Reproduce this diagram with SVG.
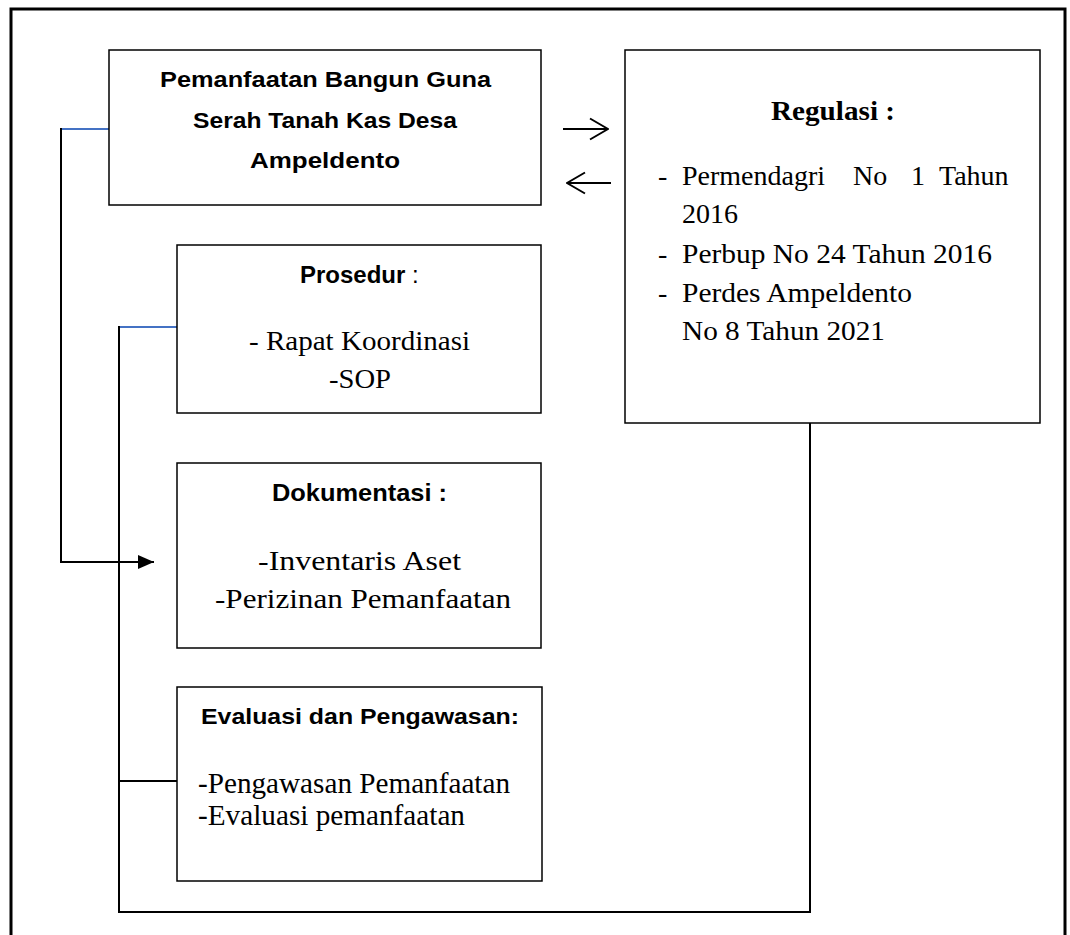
<svg xmlns="http://www.w3.org/2000/svg" width="1070" height="935" viewBox="0 0 1070 935">
<style>
.box{fill:#fff;stroke:#000;stroke-width:1.5}
.ln{fill:none;stroke:#000;stroke-width:2}
.blue{fill:none;stroke:#4472C4;stroke-width:2}
.sb{font-family:"Liberation Sans",Arial,sans-serif;font-weight:bold;fill:#000}
.sn{font-family:"Liberation Sans",Arial,sans-serif;fill:#000}
.sr{font-family:"Liberation Serif","Times New Roman",serif;fill:#000}
</style>
<defs>
<marker id="fill" viewBox="0 0 16 14" refX="16" refY="7" markerWidth="16" markerHeight="14" markerUnits="userSpaceOnUse" orient="auto"><path d="M0,0 L16,7 L0,14 Z" fill="#000"/></marker>
<marker id="open" viewBox="0 0 20 24" refX="19" refY="12" markerWidth="20" markerHeight="24" markerUnits="userSpaceOnUse" orient="auto"><path d="M1,1.5 L19,12 L1,22.5" fill="none" stroke="#000" stroke-width="2"/></marker>
</defs>
<rect x="0" y="0" width="1070" height="935" fill="#fff"/>
<rect x="11" y="9" width="1054" height="940" fill="none" stroke="#000" stroke-width="3"/>

<g id="connectors">
<line class="blue" x1="61" y1="129" x2="109" y2="129"/>
<polyline class="ln" points="61,128 61,562 154,562" marker-end="url(#fill)"/>
<line class="blue" x1="119" y1="327" x2="177" y2="327"/>
<polyline class="ln" points="119,326 119,912 810,912 810,423"/>
<line class="ln" x1="119" y1="781" x2="177" y2="781"/>
<line class="ln" x1="563" y1="129" x2="608" y2="129" marker-end="url(#open)"/>
<line class="ln" x1="611" y1="183" x2="567" y2="183" marker-end="url(#open)"/>
</g>

<g id="node-pemanfaatan">
<rect class="box" x="109" y="50" width="432" height="155"/>
<text class="sb" font-size="22" x="160" y="87" textLength="331" lengthAdjust="spacingAndGlyphs">Pemanfaatan Bangun Guna</text>
<text class="sb" font-size="22" x="193" y="128" textLength="264" lengthAdjust="spacingAndGlyphs">Serah Tanah Kas Desa</text>
<text class="sb" font-size="22" x="250" y="168" textLength="150" lengthAdjust="spacingAndGlyphs">Ampeldento</text>
</g>

<g id="node-regulasi">
<rect class="box" x="625" y="50" width="415" height="373"/>
<text class="sr" font-size="28" font-weight="bold" x="771" y="120" textLength="124" lengthAdjust="spacingAndGlyphs">Regulasi :</text>
<text class="sr" font-size="28" x="658" y="185">-</text>
<text class="sr" font-size="28" y="185"><tspan x="682">Permendagri</tspan><tspan x="853">No</tspan><tspan x="911">1</tspan><tspan x="939">Tahun</tspan></text>
<text class="sr" font-size="28" x="682" y="223">2016</text>
<text class="sr" font-size="28" x="658" y="263">-</text>
<text class="sr" font-size="28" x="682" y="263" textLength="310" lengthAdjust="spacingAndGlyphs">Perbup No 24 Tahun 2016</text>
<text class="sr" font-size="28" x="658" y="302">-</text>
<text class="sr" font-size="28" x="682" y="302" textLength="230" lengthAdjust="spacingAndGlyphs">Perdes Ampeldento</text>
<text class="sr" font-size="28" x="682" y="340" textLength="203" lengthAdjust="spacingAndGlyphs">No 8 Tahun 2021</text>
</g>

<g id="node-prosedur">
<rect class="box" x="177" y="245" width="364" height="168"/>
<text font-size="24" x="300" y="283"><tspan class="sb">Prosedur</tspan><tspan class="sn"> :</tspan></text>
<text class="sr" font-size="28" x="249" y="350" textLength="221" lengthAdjust="spacingAndGlyphs">- Rapat Koordinasi</text>
<text class="sr" font-size="28" x="329" y="388" textLength="62" lengthAdjust="spacingAndGlyphs">-SOP</text>
</g>

<g id="node-dokumentasi">
<rect class="box" x="177" y="463" width="364" height="185"/>
<text class="sb" font-size="24" x="272" y="501" textLength="175" lengthAdjust="spacingAndGlyphs">Dokumentasi :</text>
<text class="sr" font-size="28" x="258" y="570" textLength="203" lengthAdjust="spacingAndGlyphs">-Inventaris Aset</text>
<text class="sr" font-size="28" x="215" y="608" textLength="296" lengthAdjust="spacingAndGlyphs">-Perizinan Pemanfaatan</text>
</g>

<g id="node-evaluasi">
<rect class="box" x="177" y="687" width="365" height="194"/>
<text class="sb" font-size="22" x="201" y="724" textLength="318" lengthAdjust="spacingAndGlyphs">Evaluasi dan Pengawasan:</text>
<text class="sr" font-size="29" x="198" y="793" textLength="312" lengthAdjust="spacingAndGlyphs">-Pengawasan Pemanfaatan</text>
<text class="sr" font-size="29" x="198" y="825" textLength="267" lengthAdjust="spacingAndGlyphs">-Evaluasi pemanfaatan</text>
</g>
</svg>
